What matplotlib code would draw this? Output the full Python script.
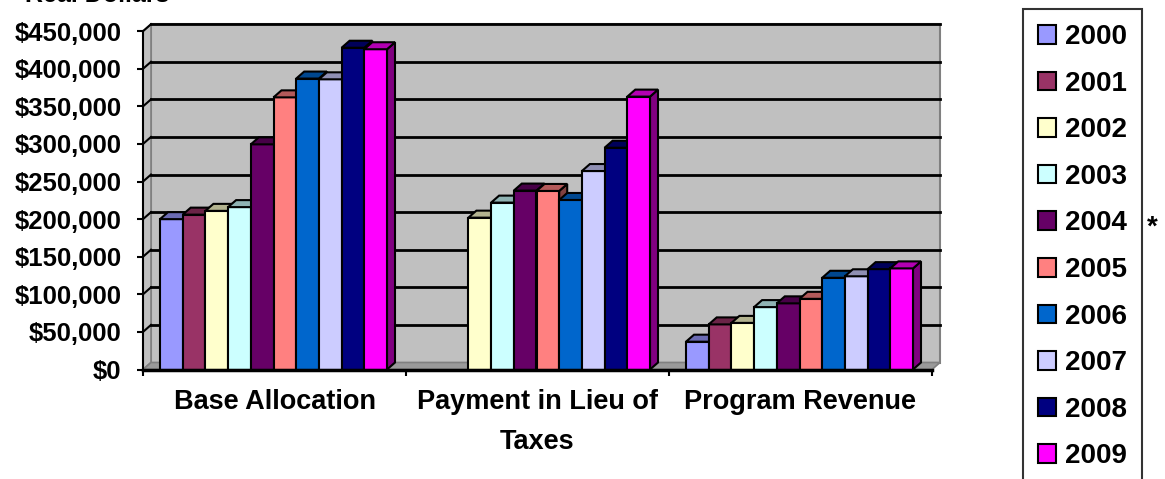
import matplotlib
matplotlib.use("Agg")
from matplotlib import pyplot as plt
from matplotlib.patches import Rectangle, Polygon, Patch
from matplotlib.colors import to_rgb

plt.rcParams['font.family'] = ['Liberation Sans', 'DejaVu Sans']
plt.rcParams['font.weight'] = 'bold'

categories = ["Base Allocation", "Payment in Lieu of\nTaxes", "Program Revenue"]
years = ["2000", "2001", "2002", "2003", "2004", "2005", "2006", "2007", "2008", "2009"]
colors = ["#9999FF", "#993366", "#FFFFCC", "#CCFFFF", "#660066",
          "#FF8080", "#0066CC", "#CCCCFF", "#000080", "#FF00FF"]

base_allocation = [200000, 206000, 211000, 216000, 299500, 362000, 387000, 386000, 428000, 426000]
payment_in_lieu = [0, 0, 202000, 222000, 238000, 237500, 225500, 264000, 295000, 363000]
program_revenue = [37000, 60000, 62000, 83000, 88000, 94000, 122000, 124000, 133500, 134500]
values = [base_allocation, payment_in_lieu, program_revenue]

y_ticks = [0, 50000, 100000, 150000, 200000, 250000, 300000, 350000, 400000, 450000]
y_labels = [f"${v:,}" for v in y_ticks]


def shade(c, f):
    r, g, b = to_rgb(c)
    return (r * f, g * f, b * f)


W, H = 1165, 479
fig = plt.figure(figsize=(W / 100, H / 100), dpi=100)
# plot area in pixels: x 143..932, y 31..369.5 (from top)
ax = fig.add_axes([143 / W, (H - 369.5) / H, (932 - 143) / W, (369.5 - 31.2) / H])
ax.set_xlim(-0.5, 2.5)
ax.set_ylim(0, 450000)
ax.patch.set_visible(False)

DX = 8 / 263.0      # depth in category units
DY = 7 / 37.6 * 50000  # depth in value units
x0, x1 = -0.5, 2.5
top = 450000

# back wall, side wall, floor
ax.add_patch(Rectangle((x0 + DX, DY), x1 - x0, top, facecolor="#C0C0C0",
                       edgecolor="#808080", lw=1.5, clip_on=False, zorder=0))
ax.add_patch(Polygon([(x0, 0), (x0 + DX, DY), (x0 + DX, top + DY), (x0, top)],
                     facecolor="#C0C0C0", edgecolor="#808080", lw=1.2, clip_on=False, zorder=0.5))
ax.add_patch(Polygon([(x0, 0), (x1, 0), (x1 + DX, DY), (x0 + DX, DY)],
                     facecolor="#9A9A9A", edgecolor="#808080", lw=1.2, clip_on=False, zorder=0.5))

for v in y_ticks[1:]:
    ax.plot([x0 + DX, x1 + DX], [v + DY, v + DY], color="black", lw=2, clip_on=False, zorder=1)
    ax.plot([x0, x0 + DX], [v, v + DY], color="black", lw=1.5, clip_on=False, zorder=1)

# 3D bars
bw = 22.7 / 263.0
start = 17 / 263.0
z = 2
for c, vals in enumerate(values):
    for i, v in enumerate(vals):
        if v <= 0:
            continue
        bx = c - 0.5 + start + i * bw
        col = colors[i]
        ax.add_patch(Rectangle((bx, 0), bw, v, facecolor=col, edgecolor="black",
                               lw=1.5, clip_on=False, zorder=z))
        ax.add_patch(Polygon([(bx, v), (bx + bw, v), (bx + bw + DX, v + DY), (bx + DX, v + DY)],
                             facecolor=shade(col, 0.7), edgecolor="black", lw=1.5,
                             clip_on=False, zorder=z))
        ax.add_patch(Polygon([(bx + bw, 0), (bx + bw + DX, DY), (bx + bw + DX, v + DY), (bx + bw, v)],
                             facecolor=shade(col, 0.5), edgecolor="black", lw=1.5,
                             clip_on=False, zorder=z - 0.5))
        z += 1

for s in ["top", "right"]:
    ax.spines[s].set_visible(False)
ax.spines["bottom"].set_linewidth(2.5)
ax.spines["left"].set_linewidth(1.5)
ax.spines["bottom"].set_zorder(200)
ax.spines["left"].set_zorder(200)

ax.set_yticks(y_ticks)
ax.set_yticklabels(y_labels, fontsize=18.5, fontweight="bold")
ax.tick_params(axis="y", length=4.5, width=1.5, pad=11)

ax.set_xticks([0, 1, 2])
ax.set_xticklabels(categories, fontsize=19.5, fontweight="bold", linespacing=1.7)
ax.set_xticks([-0.5, 0.5, 1.5, 2.5], minor=True)
ax.tick_params(axis="x", which="major", length=0, pad=14)
ax.tick_params(axis="x", which="minor", length=4, width=1.5)

# y-axis title, mostly cut off at the top edge as in the source
fig.text(25 / W, 1 - 1.5 / H, "Real Dollars", fontsize=18, fontweight="bold", va="baseline", ha="left")

handles = [Patch(facecolor=colors[i], edgecolor="black", lw=1.5, label=years[i]) for i in range(len(years))]
leg = fig.legend(handles=handles, loc="upper left", bbox_to_anchor=(1023 / W, 1 - 9 / H),
                 prop={"weight": "bold", "size": 20}, frameon=True, fancybox=False,
                 edgecolor="black", handlelength=0.65, handleheight=0.65, handletextpad=0.3,
                 labelspacing=0.74, borderpad=0.55, borderaxespad=0)
leg.get_frame().set_linewidth(1.5)

fig.text(1152 / W, 1 - 228 / H, "*", fontsize=20, fontweight="bold", ha="center", va="center")

fig.savefig("out.png", dpi=100)
